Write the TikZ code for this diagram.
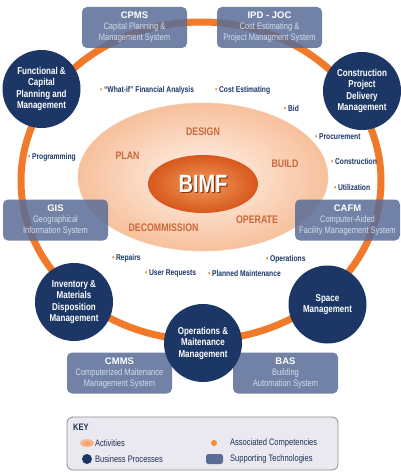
\documentclass[tikz,border=0pt]{standalone}
\usepackage{fontspec}
\setmainfont{Liberation Sans}[FakeStretch=0.8]
\newfontfamily\titlefont{Liberation Sans}
\usetikzlibrary{shapes.geometric}
\definecolor{navy}{HTML}{1C3766}
\definecolor{ringorange}{HTML}{F07A2A}
\definecolor{slate}{HTML}{5A6D97}
\definecolor{actbrown}{HTML}{C8683C}
\definecolor{bulletor}{HTML}{F08A3C}
\definecolor{subtxt}{HTML}{D5DCE9}
\definecolor{peachedge}{HTML}{F7C09C}
\definecolor{peachin}{HTML}{FFF4EC}
\definecolor{bimfin}{HTML}{F09A5E}
\definecolor{bimfout}{HTML}{D8581C}
\definecolor{keyfill}{HTML}{E9E9EF}
\definecolor{keyborder}{HTML}{8C8C96}
\definecolor{keytext}{HTML}{1F2F55}
\newcommand{\fsz}[2]{\fontsize{#1}{#2}\selectfont}
\newcommand{\bul}{{\color{bulletor}\textbullet}\hspace{1.5pt}}
\newcommand{\ttl}[1]{{\titlefont\bfseries\color{white}\fsz{9.5}{11}#1}}
\begin{document}
\begin{tikzpicture}[x=1pt,y=-1pt,
  bp/.style={circle, fill=navy, minimum size=78pt, inner sep=0pt, text=white,
    align=center, font=\bfseries\fsz{10}{11.5}},
  tech/.style={rounded corners=5pt, fill=slate, fill opacity=0.85, text opacity=1,
    minimum width=105pt, minimum height=41pt, inner sep=0pt, align=center,
    text=subtxt, font=\fsz{9.4}{11}},
  comp/.style={anchor=west, inner sep=0pt, text=navy, font=\bfseries\fsz{8.4}{9}},
  act/.style={inner sep=0pt, text=actbrown, font=\bfseries\fsz{11}{12}},
  keytxt/.style={anchor=west, inner sep=0pt, text=keytext, font=\fsz{9.4}{10}}]
\useasboundingbox (0,0) rectangle (400,476);
\fill[white] (0,0) rectangle (400,476);

% ring
\node[ellipse, draw=ringorange, line width=7pt, minimum width=360pt, minimum height=318pt, inner sep=0pt] (ring) at (201,181) {};

% activities ellipse
\node[ellipse, minimum width=250pt, minimum height=148pt, inner sep=0pt,
  inner color=peachin, outer color=peachedge, draw=peachedge!80!white, line width=0.6pt] (actell) at (203,177) {};
\node[ellipse, minimum width=110pt, minimum height=58pt, inner sep=0pt,
  inner color=bimfin, outer color=bimfout] (bimf) at (203,184) {};
\node[text=bimfout!60!black, font=\bfseries\fsz{25}{26}, inner sep=0pt] (bimfshadow) at (204.2,185.2) {BIMF};
\node[text=white, font=\bfseries\fsz{25}{26}, inner sep=0pt] (bimftext) at (203,184) {BIMF};

\node[act] (design) at (203,132) {DESIGN};
\node[act] (plan) at (127.5,156) {PLAN};
\node[act] (build) at (285,164) {BUILD};
\node[act] (operate) at (257,220) {OPERATE};
\node[act] (decom) at (163.5,228) {DECOMMISSION};

% competencies
\node[comp] (c1) at (100,90) {\bul “What-if” Financial Analysis};
\node[comp] (c2) at (215,90) {\bul Cost Estimating};
\node[comp] (c3) at (284,108) {\bul Bid};
\node[comp] (c4) at (315,137) {\bul Procurement};
\node[comp] (c5) at (331,161) {\bul Construction};
\node[comp] (c6) at (334,187) {\bul Utilization};
\node[comp] (c7) at (28,157) {\bul Programming};
\node[comp] (c8) at (112,258) {\bul Repairs};
\node[comp] (c9) at (145,273) {\bul User Requests};
\node[comp] (c10) at (266,259) {\bul Operations};
\node[comp] (c11) at (208,273) {\bul Planned Maintenance};

% supporting technologies
\node[tech] (cpms) at (134.5,27.5) {\ttl{CPMS}\\Capital Planning \&\\Management System};
\node[tech] (ipd) at (269.5,27.5) {\ttl{IPD - JOC}\\Cost Estimating \&\\Project Managment System};
\node[tech] (gis) at (55.5,220) {\ttl{GIS}\\Geographical\\Information System};
\node[tech] (cafm) at (347.5,220) {\ttl{CAFM}\\Computer-Aided\\Facility Management System};
\node[tech] (cmms) at (119.5,373) {\ttl{CMMS}\\Computerized Maitenance\\Management System};
\node[tech] (bas) at (285.5,373) {\ttl{BAS}\\Building\\Automation System};

% business processes
\node[bp] (func) at (41.5,89) {Functional \&\\Capital\\Planning and\\Management};
\node[bp] (cpd) at (362,91) {Construction\\Project\\Delivery\\Management};
\node[bp] (inv) at (74,302) {Inventory \&\\Materials\\Disposition\\Management};
\node[bp] (om) at (203,343) {Operations \&\\Maitenance\\Management};
\node[bp] (space) at (327.5,304.5) {Space\\Management};

% key
\node[draw=keyborder, fill=keyfill, rounded corners=6pt, minimum width=271pt,
  minimum height=53pt, line width=0.8pt, inner sep=0pt] (key) at (202.5,443.5) {};
\node[anchor=west, inner sep=0pt, text=keytext, font=\bfseries\fsz{9.4}{10}] (keytitle) at (73,427) {KEY};
\node[ellipse, minimum width=14pt, minimum height=8pt, inner sep=0pt, inner color=bimfin, outer color=peachedge] (kact) at (87,443) {};
\node[circle, minimum size=10pt, inner sep=0pt, fill=navy] (kbp) at (87,459) {};
\node[circle, minimum size=6pt, inner sep=0pt, fill=bulletor] (kcomp) at (214,443) {};
\node[rounded corners=2.5pt, minimum width=17pt, minimum height=10pt, inner sep=0pt, fill=slate] (ktech) at (214.5,459) {};
\node[keytxt] (lact) at (95,443) {Activities};
\node[keytxt] (lbp) at (95,459) {Business Processes};
\node[keytxt] (lcomp) at (230,443) {Associated Competencies};
\node[keytxt] (ltech) at (230,459) {Supporting Technologies};
\end{tikzpicture}
\end{document}
